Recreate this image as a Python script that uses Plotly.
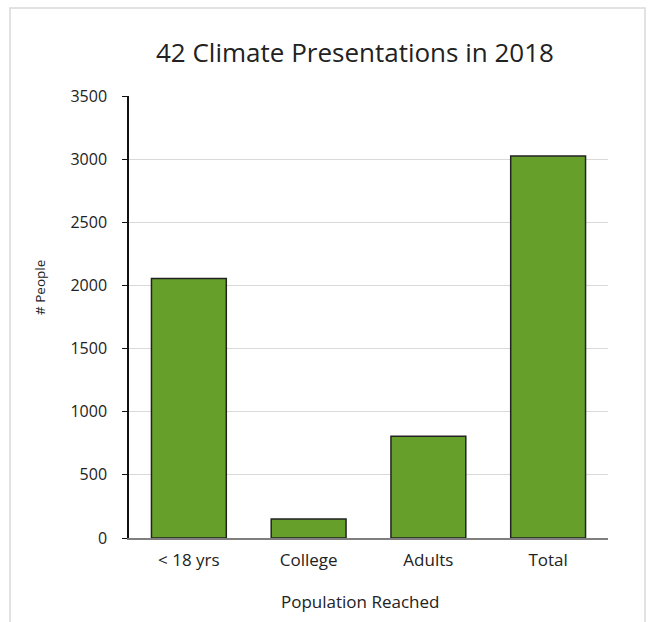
import plotly.graph_objects as go

categories = ["< 18 yrs", "College", "Adults", "Total"]
people = [2055, 150, 805, 3025]
y_ticks = [0, 500, 1000, 1500, 2000, 2500, 3000, 3500]

W, H = 649, 622
L, R, T, B = 129, 41, 96, 84
pw, ph = W - L - R, H - T - B

def px(x):
    return (x - L) / pw

def py(y):
    return (H - B - y) / ph

font = "Open Sans"
txt = "#222222"

fig = go.Figure(
    go.Bar(
        x=categories,
        y=people,
        marker=dict(color="#66A02A", line=dict(color="#222222", width=1.5)),
        width=0.625,
        hoverinfo="x+y",
    )
)

fig.update_layout(
    width=W,
    height=H,
    margin=dict(l=L, r=R, t=T, b=B, autoexpand=False),
    paper_bgcolor="white",
    plot_bgcolor="white",
    showlegend=False,
    font=dict(family=font, color=txt),
    shapes=[
        dict(type="rect", xref="paper", yref="paper",
             x0=px(10), x1=px(645), y0=py(640), y1=py(8),
             line=dict(color="#d9d9d9", width=1.5), layer="below"),
    ],
    annotations=[
        dict(text="42 Climate Presentations in 2018", xref="paper", yref="paper",
             x=px(354.5), y=py(52), xanchor="center", yanchor="middle",
             showarrow=False, font=dict(size=26, family=font, color=txt)),
        dict(text="Population Reached", xref="paper", yref="paper",
             x=px(360), y=py(601), xanchor="center", yanchor="middle",
             showarrow=False, font=dict(size=17, family=font, color=txt)),
        dict(text="# People", xref="paper", yref="paper",
             x=px(40), y=py(288), xanchor="center", yanchor="middle", textangle=-90,
             showarrow=False, font=dict(size=13.5, family=font, color=txt)),
    ],
)

fig.update_xaxes(
    showline=True, linecolor="#7f7f7f", linewidth=1.5,
    ticks="", tickfont=dict(size=17, family=font, color=txt),
    ticklabelstandoff=6,
    showgrid=False, range=[-0.5, 3.5],
)
fig.update_yaxes(
    range=[0, 3500], tickvals=y_ticks, ticktext=[str(v) for v in y_ticks],
    showline=True, linecolor="#111111", linewidth=1.5,
    ticks="outside", ticklen=5, tickcolor="#111111", tickwidth=1.2,
    tickfont=dict(size=16, family=font, color=txt),
    ticklabelstandoff=12,
    showgrid=True, gridcolor="#d9d9d9", gridwidth=1.2,
    zeroline=False,
)

fig.write_html(
    "out.html",
    config={"displayModeBar": False},
    post_script="document.body.style.margin='0px';document.body.style.overflow='hidden';",
)
